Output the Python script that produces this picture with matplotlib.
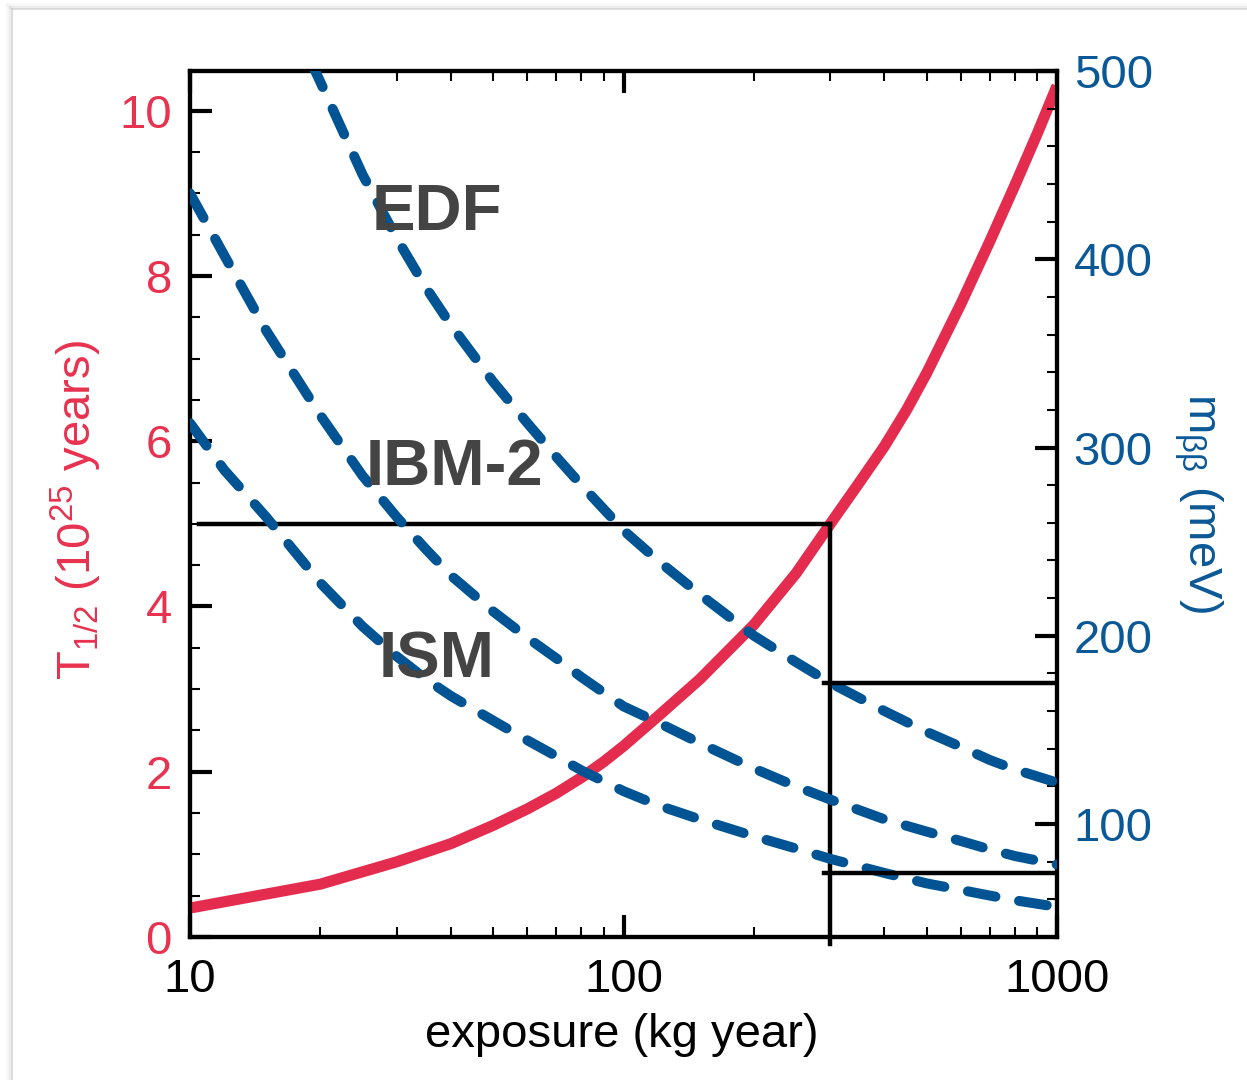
import matplotlib
matplotlib.use('Agg')
import matplotlib.pyplot as plt
from matplotlib.ticker import MultipleLocator, NullFormatter
from matplotlib.lines import Line2D

plt.rcParams['font.family'] = ['Liberation Sans', 'DejaVu Sans']
plt.rcParams['mathtext.fontset'] = 'custom'
plt.rcParams['mathtext.rm'] = 'Liberation Sans'
plt.rcParams['mathtext.it'] = 'Liberation Sans:italic'
plt.rcParams['mathtext.bf'] = 'Liberation Sans:bold'

# half-life sensitivity (10^25 yr) vs exposure (kg yr)
expo_t = [10, 20, 30, 40, 50, 60, 70, 80, 90, 100, 120, 150, 200, 250, 300,
          350, 400, 450, 500, 600, 700, 800, 900, 1000]
t_half = [0.35, 0.64, 0.91, 1.13, 1.35, 1.55, 1.74, 1.93, 2.12, 2.31, 2.67,
          3.12, 3.78, 4.40, 5.0, 5.5, 5.94, 6.38, 6.82, 7.66, 8.42, 9.1,
          9.72, 10.3]

# m_bb reach (meV) for each nuclear matrix element model
edf_x = [19, 20, 25, 30, 35, 40, 50, 60, 70, 80, 100, 120, 150, 200, 250,
         300, 400, 500, 600, 700, 800, 1000]
edf_m = [505, 494, 445, 411, 385, 365, 335, 313, 295, 280, 256, 240, 222,
         200, 186, 175, 160, 149, 141, 134, 129, 122]

ibm_x = [10, 12, 15, 20, 25, 30, 35, 40, 50, 60, 70, 80, 100, 120, 150, 200,
         250, 300, 400, 500, 600, 700, 800, 1000]
ibm_m = [435, 402, 362, 317, 285, 263, 246, 232, 213, 199, 188, 178, 162.5,
         154, 143, 129.5, 120, 113, 102.5, 96, 91, 86.5, 83, 78.5]

ism_x = [10, 12, 15, 20, 25, 30, 35, 40, 50, 60, 70, 80, 100, 120, 150, 200,
         250, 300, 400, 500, 600, 700, 800, 1000]
ism_m = [313, 288, 263, 228, 205, 189, 177, 168, 155, 144.5, 136, 128.5,
         117.5, 110, 102.5, 93.5, 87, 81.5, 74, 68.5, 65, 62, 59.5, 56]

model_names = ['EDF', 'IBM-2', 'ISM']
model_pos = [(0.209, 0.816), (0.203, 0.522), (0.217, 0.300)]

# reference cut: 300 kg yr -> 5e25 yr -> m_bb limits
ref_expo = 300
ref_thalf = 5.0
ref_mbb = [175, 74]

red = '#E42C4E'
blue = '#005493'
red_txt = '#E8324F'
blue_txt = '#0B5896'
gray = '#444444'
fs = 34

W, H = 1247, 1080
fig = plt.figure(figsize=(W / 100, H / 100), dpi=100)

# soft edge of the panel
for off, a, lw in [(0, 0.55, 1.5), (2, 0.25, 2.5), (4, 0.10, 3)]:
    fig.add_artist(Line2D([(12 - off) / W, (12 - off) / W], [0, 1 - (9 - off) / H],
                          transform=fig.transFigure, color='#c8c8c8', alpha=a, lw=lw))
    fig.add_artist(Line2D([(12 - off) / W, 1], [1 - (9 - off) / H, 1 - (9 - off) / H],
                          transform=fig.transFigure, color='#c8c8c8', alpha=a, lw=lw))

ax = fig.add_axes([190 / W, 1 - 937 / H, 867 / W, 866 / H])
ax2 = ax.twinx()

ax.set_xscale('log')
ax.set_xlim(10, 1000)
ax.set_ylim(0, 10.48)
ax2.set_ylim(40, 500)

ax.plot(expo_t, t_half, color=red, lw=8, solid_capstyle='butt',
        solid_joinstyle='round', zorder=3)

dash = dict(color=blue, lw=7.2, dashes=(2.8, 2.4), dash_capstyle='round', zorder=3)
ax2.plot(edf_x, edf_m, **dash)
ax2.plot(ibm_x, ibm_m, **dash)
ax2.plot(ism_x, ism_m, **dash)

blk = dict(color='black', lw=3.2, solid_capstyle='projecting', zorder=4)
ax.plot([10.5, ref_expo], [ref_thalf, ref_thalf], **blk)
ax.plot([ref_expo, ref_expo], [ref_thalf, -0.08], clip_on=False, **blk)
for m in ref_mbb:
    ax2.plot([290, 1000], [m, m], **blk)

for name, (tx, ty) in zip(model_names, model_pos):
    ax2.text(tx, ty, name, transform=ax.transAxes, fontsize=47, fontweight='bold',
             color=gray, ha='left', va='baseline', zorder=6)

# ticks
ax.set_xticks([10, 100, 1000])
ax.set_xticklabels(['10', '100', '1000'])
ax.set_xticks([v * d for d in (10, 100) for v in range(2, 10)], minor=True)
ax.xaxis.set_minor_formatter(NullFormatter())
ax.yaxis.set_major_locator(MultipleLocator(2))
ax.yaxis.set_minor_locator(MultipleLocator(0.5))
ax2.yaxis.set_major_locator(MultipleLocator(100))
ax2.yaxis.set_minor_locator(MultipleLocator(20))
ax2.set_yticks([100, 200, 300, 400, 500])

ax.tick_params(axis='both', which='both', direction='in', top=True, bottom=True,
               left=True, right=False)
ax.tick_params(which='major', length=16, width=3)
ax.tick_params(which='minor', length=7, width=1.5)
ax.tick_params(axis='x', labelsize=fs, pad=15, labelcolor='black')
ax.tick_params(axis='y', labelsize=fs, pad=13, labelcolor=red_txt)
ax2.tick_params(axis='y', which='both', direction='in', right=True, left=False)
ax2.tick_params(axis='y', which='major', length=16, width=3, labelsize=fs, pad=12,
                labelcolor=blue_txt)
ax2.tick_params(axis='y', which='minor', length=7, width=1.5)

for a in (ax, ax2):
    for s in a.spines.values():
        s.set_linewidth(3)

fig.text(622 / W, 1 - 1047 / H, 'exposure (kg year)', fontsize=fs, ha='center',
         va='baseline')
fig.text(76 / W, 1 - 510 / H, r'T$_{1/2}$ (10$^{25}$ years)', fontsize=fs,
         color=red_txt, rotation=90, ha='center', va='center')
fig.text(1198 / W, 1 - 503 / H, r'm$_{\mathregular{ββ}}$ (meV)', fontsize=fs,
         color=blue_txt, rotation=-90, ha='center', va='center')

fig.savefig('out.png', dpi=100)
